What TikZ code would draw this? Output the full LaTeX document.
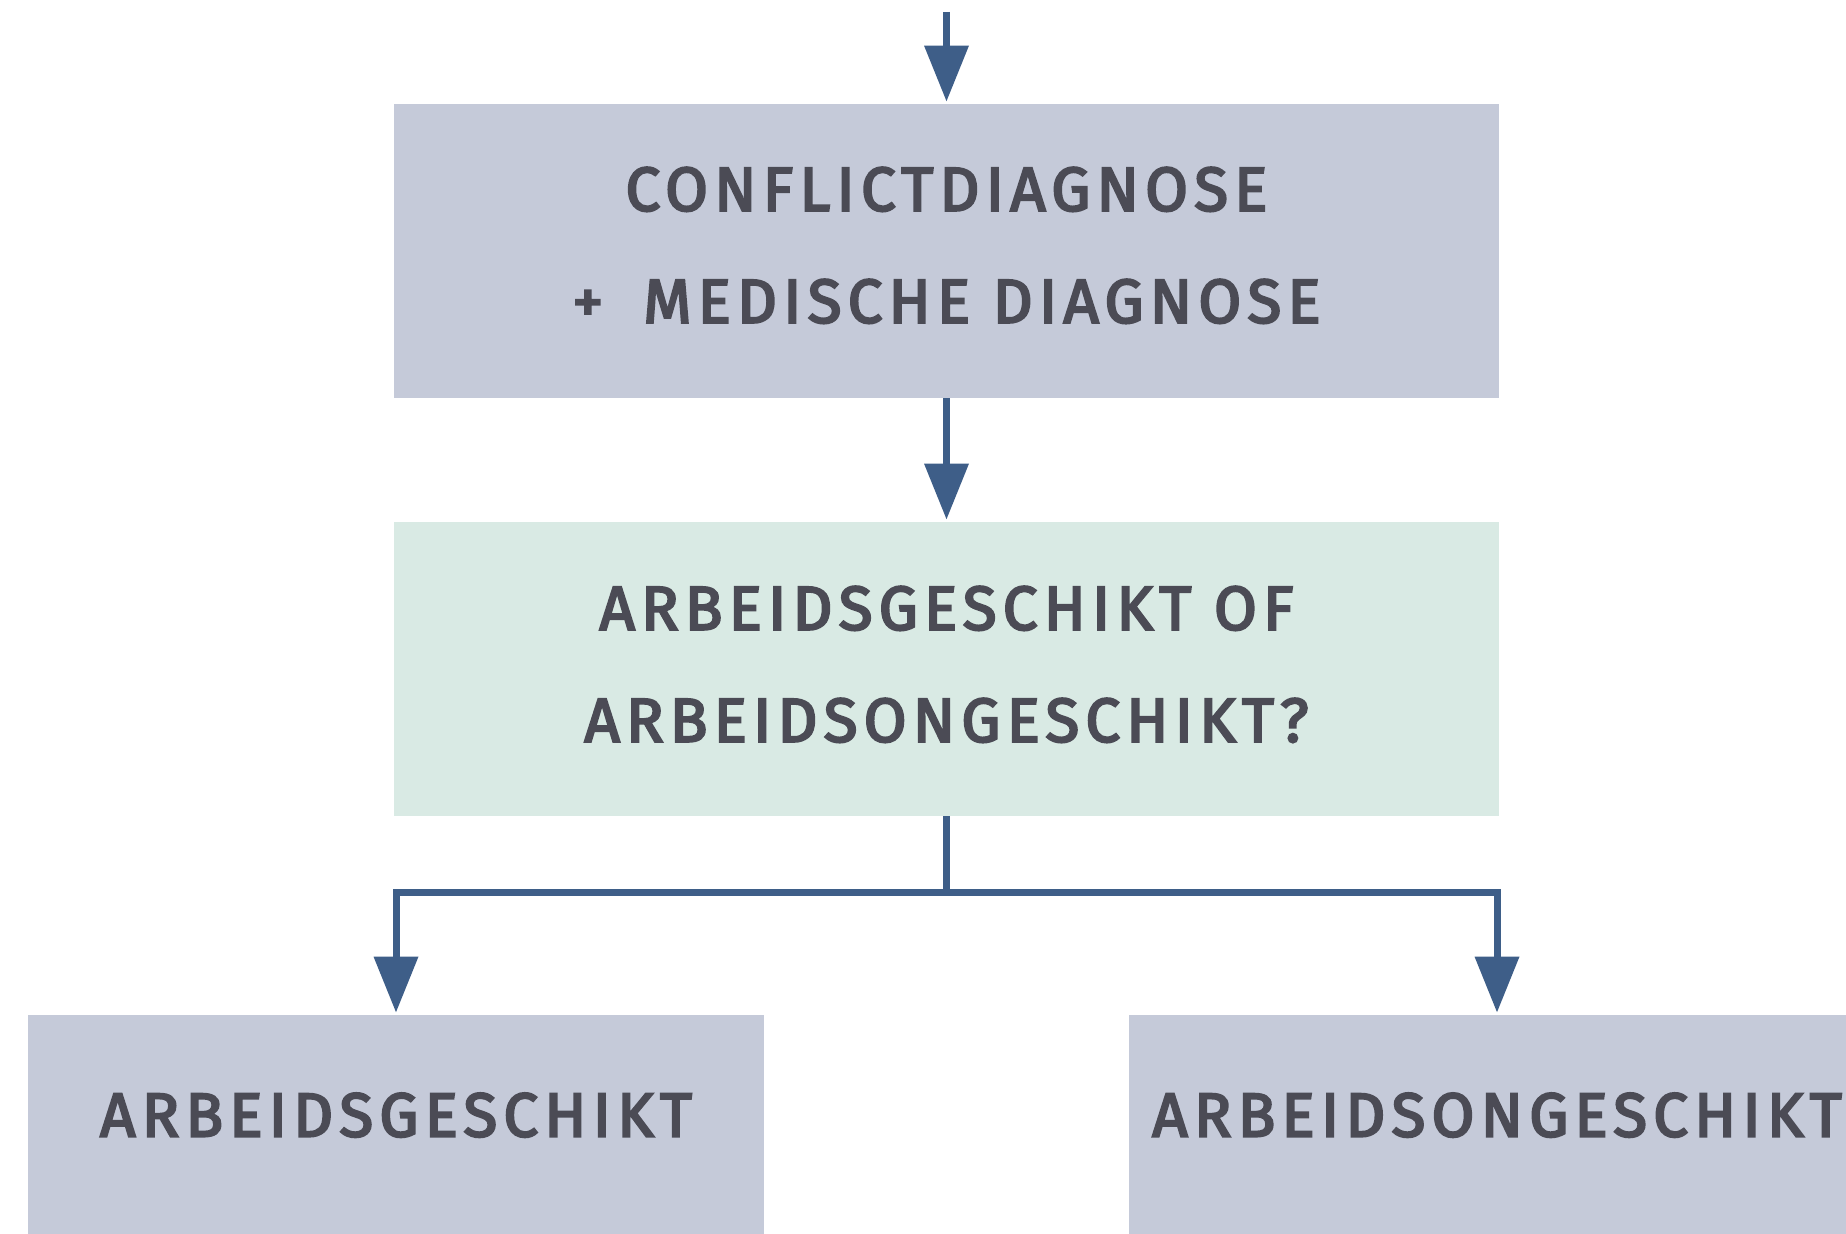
\documentclass[tikz,border=0pt]{standalone}
\usepackage{fontspec}
\usetikzlibrary{arrows.meta}
\newfontfamily\lblfont{Fira Sans}[LetterSpace=10, FakeBold=3.5]
\definecolor{boxgray}{RGB}{197,202,217}
\definecolor{boxmint}{RGB}{217,234,228}
\definecolor{arrowblue}{RGB}{62,94,136}
\definecolor{txtgray}{RGB}{75,75,85}
\tikzset{
  box/.style={fill=#1, draw=none, inner sep=0pt, text=txtgray, align=center,
    font=\lblfont\fontsize{31}{56}\selectfont},
  flow/.style={draw=arrowblue, line width=3.5pt,
    -{Triangle[length=28pt,width=21.5pt]}, shorten >=1pt},
  plain/.style={draw=arrowblue, line width=3.5pt},
}
\begin{document}
\begin{tikzpicture}[x=0.5pt,y=-0.5pt]
\useasboundingbox (0,0) rectangle (1846,1234);
\fill[white] (0,0) rectangle (1846,1234);
\node[box=boxgray, minimum width=552.5pt, minimum height=147pt] (diag) at (946.5,251) {\raisebox{6pt}{CONFLICTDIAGNOSE}\\\raisebox{6pt}{+\hspace{20pt}MEDISCHE DIAGNOSE}};
\node[box=boxmint, minimum width=552.5pt, minimum height=147pt] (vraag) at (946.5,669) {\raisebox{5pt}{ARBEIDSGESCHIKT OF}\\\raisebox{5pt}{ARBEIDSONGESCHIKT?}};
\begin{scope}
\clip (0,0) rectangle (1846,1234);
\node[box=boxgray, minimum width=368pt, text height=60.75pt, text depth=52pt, anchor=base] (geschikt) at (396,1136.5) {ARBEIDSGESCHIKT};
\node[box=boxgray, minimum width=368pt, text height=60.75pt, text depth=52pt, anchor=base] (ongeschikt) at (1497,1136.5) {ARBEIDSONGESCHIKT};
\end{scope}
\coordinate (start) at (946.5,12);
\coordinate (split) at (946.5,892);
\draw[flow] (start) -- (diag.north);
\draw[flow] (diag.south) -- (vraag.north);
\draw[plain] (vraag.south) -- (split);
\draw[flow] (split) -| (geschikt.north);
\draw[flow] (split) -| (ongeschikt.north);
\end{tikzpicture}
\end{document}
